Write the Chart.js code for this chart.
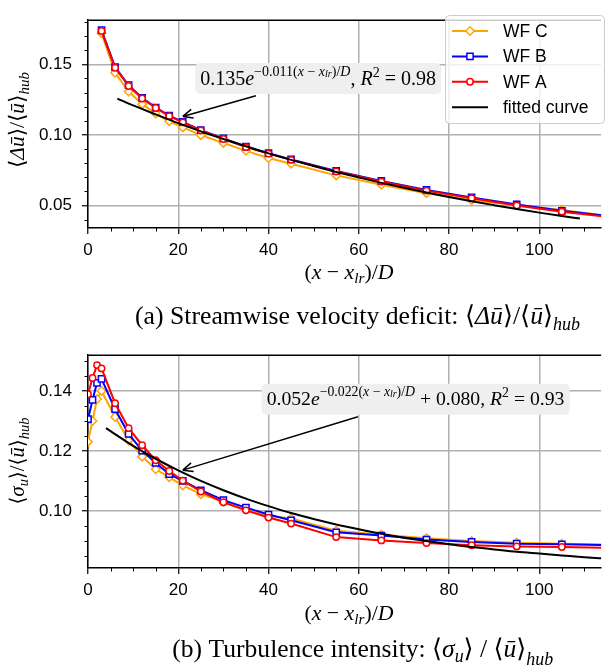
<!DOCTYPE html>
<html>
<head>
<meta charset="utf-8">
<script src="https://cdn.jsdelivr.net/npm/chart.js@4.4.1/dist/chart.umd.min.js"></script>
<style>
  html, body { margin: 0; padding: 0; background: #fff; }
  #wrap { position: relative; width: 607px; height: 670px; overflow: hidden; }
  canvas { position: absolute; left: 0; }
  #top { top: 0; }
  #bot { top: 335px; }
</style>
</head>
<body>
<div id="wrap">
  <canvas id="top" width="607" height="335"></canvas>
  <canvas id="bot" width="607" height="335"></canvas>
</div>
<script>
// ---- data: (a) streamwise velocity deficit ----
const xDef = [3, 6, 9, 12, 15, 18, 21, 25, 30, 35, 40, 45, 55, 65, 75, 85, 95, 105, 115];
const defA = [0.1736, 0.1476, 0.1347, 0.1258, 0.1191, 0.1133, 0.1089, 0.1031, 0.0971, 0.0913, 0.0867, 0.0823, 0.0740, 0.0669, 0.0605, 0.0551, 0.0500, 0.0456, 0.0420];
const defB = [0.1743, 0.1481, 0.1352, 0.1262, 0.1194, 0.1136, 0.1092, 0.1034, 0.0975, 0.0917, 0.0871, 0.0826, 0.0745, 0.0674, 0.0610, 0.0557, 0.0507, 0.0462, 0.0426];
const defC = [0.1720, 0.1440, 0.1307, 0.1218, 0.1151, 0.1096, 0.1053, 0.0998, 0.0943, 0.0887, 0.0836, 0.0796, 0.0713, 0.0647, 0.0587, 0.0536, 0.0503, 0.0468, 0.0425];
// fitted curve 0.135 e^{-0.011 x}
const fitDefX = [6.5, 10, 15, 20, 25, 30, 35, 40, 45, 50, 55, 60, 65, 70, 75, 80, 85, 90, 95, 100, 105, 109];
const fitDefY = [0.1257, 0.1209, 0.1145, 0.1083, 0.1025, 0.0971, 0.0919, 0.0869, 0.0823, 0.0779, 0.0737, 0.0698, 0.0660, 0.0625, 0.0592, 0.0560, 0.0530, 0.0502, 0.0475, 0.0449, 0.0425, 0.0407];

// ---- data: (b) turbulence intensity ----
const xTi = [0, 1, 2, 3, 6, 9, 12, 15, 18, 21, 25, 30, 35, 40, 45, 55, 65, 75, 85, 95, 105, 115];
const tiA = [0.1389, 0.1443, 0.1486, 0.1475, 0.1359, 0.1276, 0.1219, 0.1169, 0.1133, 0.1101, 0.1065, 0.1029, 0.1002, 0.0978, 0.0958, 0.0913, 0.0902, 0.0893, 0.0886, 0.0882, 0.0880, 0.0877];
const tiB = [0.1306, 0.1370, 0.1427, 0.1440, 0.1339, 0.1257, 0.1201, 0.1160, 0.1123, 0.1100, 0.1069, 0.1036, 0.1011, 0.0988, 0.0969, 0.0929, 0.0918, 0.0905, 0.0897, 0.0891, 0.0889, 0.0886];
const tiC = [0.1231, 0.1300, 0.1373, 0.1400, 0.1313, 0.1235, 0.1181, 0.1139, 0.1112, 0.1085, 0.1056, 0.1031, 0.1005, 0.0983, 0.0975, 0.0934, 0.0921, 0.0909, 0.0900, 0.0894, 0.0891, 0.0888];
// fitted curve 0.052 e^{-0.022 x} + 0.080
const fitTiX = [4, 5, 10, 15, 20, 25, 30, 35, 40, 45, 50, 55, 60, 65, 70, 75, 80, 85, 90, 95, 100, 105, 110, 115];
const fitTiY = [0.1276, 0.1266, 0.1217, 0.1174, 0.1135, 0.1100, 0.1069, 0.1041, 0.1016, 0.0993, 0.0973, 0.0955, 0.0939, 0.0924, 0.0911, 0.0900, 0.0889, 0.0880, 0.0872, 0.0864, 0.0858, 0.0852, 0.0846, 0.0841];

// ---- ticks ----
const xTicks = [0, 20, 40, 60, 80, 100];
const yTicksDef = [0.05, 0.10, 0.15];
const yTicksTi = [0.10, 0.12, 0.14];
const labels = ['WF A', 'WF B', 'WF C', 'fitted curve'];

const X_MAX = 113.7;
const SANS = '"Liberation Sans", Arial, sans-serif';
const SERIF = '"Liberation Serif", "DejaVu Serif", serif';

const styles = [
  { color: '#ff0000', point: 'circle', r: 3.2 },
  { color: '#0000ff', point: 'rect', r: 4.4 },
  { color: '#ffa500', point: 'rectRot', r: 4.2 },
  { color: '#000000', point: false, r: 0 }
];

function lineSet(label, xs, ys, st) {
  return {
    label: label,
    data: xs.map((x, i) => ({ x: x, y: ys[i] })),
    borderColor: st.color,
    backgroundColor: st.color,
    borderWidth: 2,
    pointStyle: st.point,
    pointRadius: st.r,
    pointBorderColor: st.color,
    pointBackgroundColor: '#fff',
    pointBorderWidth: 1.5,
    cubicInterpolationMode: st.point ? 'default' : 'monotone'
  };
}

// draw a run list like [text, italic, scale, shift]; width fitted to the target
function drawRuns(ctx, runs, cx, base, targetW) {
  const font = (r, s) => (r[1] ? 'italic ' : '') + (s * (r[2] || 1)).toFixed(2) + 'px ' + SERIF;
  let w100 = 0;
  runs.forEach(r => { ctx.font = font(r, 100); w100 += ctx.measureText(r[0]).width; });
  const size = 100 * targetW / w100;
  let x = cx - targetW / 2;
  ctx.textAlign = 'left';
  ctx.textBaseline = 'alphabetic';
  runs.forEach(r => {
    ctx.font = font(r, size);
    ctx.fillText(r[0], x, base + (r[3] || 0) * size);
    x += ctx.measureText(r[0]).width;
  });
  return size;
}

function roundRect(ctx, x, y, w, h, r) {
  ctx.beginPath();
  ctx.moveTo(x + r, y);
  ctx.arcTo(x + w, y, x + w, y + h, r);
  ctx.arcTo(x + w, y + h, x, y + h, r);
  ctx.arcTo(x, y + h, x, y, r);
  ctx.arcTo(x, y, x + w, y, r);
  ctx.closePath();
}

const xTitle = [['(', 0], ['x', 1], [' \u2212 ', 0], ['x', 1], ['lr', 1, 0.7, 0.2], [')/', 0], ['D', 1]];

function decor(cfg) {
  return {
    id: 'decor',
    afterDraw(chart) {
      const ctx = chart.ctx, a = chart.chartArea;
      const sx = chart.scales.x, sy = chart.scales.y;
      ctx.save();
      // top spine
      ctx.strokeStyle = '#000';
      ctx.lineWidth = 1.5;
      ctx.beginPath();
      ctx.moveTo(a.left, a.top);
      ctx.lineTo(a.right, a.top);
      ctx.stroke();

      // minor ticks
      ctx.lineWidth = 1;
      ctx.beginPath();
      for (let k = 1; k * 5 <= X_MAX; k++) {
        if (k % 4 === 0) continue;
        const px = Math.round(sx.getPixelForValue(k * 5)) + 0.5;
        ctx.moveTo(px, a.bottom);
        ctx.lineTo(px, a.bottom + 3.5);
      }
      for (let k = cfg.minor[0]; k <= cfg.minor[1]; k++) {
        if (k % cfg.minor[3] === 0) continue;
        const py = Math.round(sy.getPixelForValue(k * cfg.minor[2])) + 0.5;
        ctx.moveTo(a.left, py);
        ctx.lineTo(a.left - 3.5, py);
      }
      ctx.stroke();

      ctx.fillStyle = '#000';
      // axis titles and caption
      drawRuns(ctx, xTitle, 349, cfg.xTitleY, 89);
      drawRuns(ctx, cfg.caption, cfg.captionX, cfg.captionY, cfg.captionW);
      ctx.save();
      ctx.translate(24, cfg.yTitleC);
      ctx.rotate(-Math.PI / 2);
      drawRuns(ctx, cfg.yTitle, 0, 0, cfg.yTitleW);
      ctx.restore();

      // annotation arrow and box
      const n = cfg.note;
      const p0 = [sx.getPixelForValue(n.from[0]), sy.getPixelForValue(n.from[1])];
      const p1 = [sx.getPixelForValue(n.to[0]), sy.getPixelForValue(n.to[1])];
      ctx.strokeStyle = '#000';
      ctx.lineWidth = 1.5;
      ctx.beginPath();
      ctx.moveTo(p0[0], p0[1]);
      ctx.lineTo(p1[0], p1[1]);
      const ang = Math.atan2(p1[1] - p0[1], p1[0] - p0[0]);
      [-0.42, 0.42].forEach(d => {
        ctx.moveTo(p1[0], p1[1]);
        ctx.lineTo(p1[0] - 11 * Math.cos(ang + d), p1[1] - 11 * Math.sin(ang + d));
      });
      ctx.stroke();
      const cx = sx.getPixelForValue(n.at[0]), cy = sy.getPixelForValue(n.at[1]);
      ctx.fillStyle = '#efefef';
      roundRect(ctx, cx - n.w / 2 - 5, cy - 15.5, n.w + 10, 31, 5);
      ctx.fill();
      ctx.fillStyle = '#000';
      drawRuns(ctx, n.runs, cx, cy + n.dy, n.w);

      // legend
      if (cfg.legend) {
        const ds = chart.data.datasets;
        ctx.fillStyle = 'rgba(255,255,255,0.8)';
        ctx.strokeStyle = '#cccccc';
        ctx.lineWidth = 1;
        roundRect(ctx, 445.5, 15.5, 159, 108, 4);
        ctx.fill();
        ctx.stroke();
        [3, 2, 1, 0].forEach((i, row) => {
          const d = ds[i], y = 31 + row * 25.4;
          ctx.strokeStyle = d.borderColor;
          ctx.lineWidth = 2;
          ctx.beginPath();
          ctx.moveTo(452, y);
          ctx.lineTo(488, y);
          ctx.stroke();
          if (d.pointStyle) {
            ctx.fillStyle = '#fff';
            ctx.lineWidth = 1.5;
            Chart.helpers.drawPoint(ctx, { pointStyle: d.pointStyle, radius: d.pointRadius, borderWidth: 1.5, rotation: 0 }, 470, y);
          }
          ctx.fillStyle = '#000';
          ctx.font = '17.5px ' + SANS;
          ctx.textAlign = 'left';
          ctx.textBaseline = 'middle';
          ctx.fillText(d.label, 503, y + 1);
        });
      }
      ctx.restore();
    }
  };
}

function makeChart(id, cfg) {
  const grid = { color: '#b0b0b0', lineWidth: 1.5, tickColor: '#000', tickLength: 6, tickWidth: 1.2 };
  const border = { color: '#000', width: 1.5 };
  const tickFont = { family: SANS, size: 17 };
  return new Chart(document.getElementById(id), {
    type: 'line',
    data: { datasets: cfg.datasets },
    options: {
      responsive: false,
      animation: false,
      devicePixelRatio: 1,
      layout: { padding: { top: cfg.top, left: 0, right: 0, bottom: 0 } },
      plugins: { legend: { display: false }, tooltip: { enabled: false } },
      scales: {
        x: {
          type: 'linear', min: 0, max: X_MAX, bounds: 'data',
          afterBuildTicks: s => { s.ticks = xTicks.map(v => ({ value: v })); },
          afterFit: s => { s.height = cfg.xAxisH; },
          ticks: { color: '#000', font: tickFont, padding: 6, maxRotation: 0, autoSkip: false, callback: v => String(v) },
          grid: grid, border: border
        },
        y: {
          type: 'linear', min: cfg.yMin, max: cfg.yMax, bounds: 'data',
          afterBuildTicks: s => { s.ticks = cfg.yTicks.map(v => ({ value: v })); },
          afterFit: s => { s.width = 88; },
          ticks: { color: '#000', font: tickFont, padding: 10, callback: v => v.toFixed(2) },
          grid: grid, border: border
        }
      }
    },
    plugins: [decor(cfg)]
  });
}

// dataset 0 is drawn last, so the fitted curve sits on top, then WF A, WF B, WF C
makeChart('top', {
  top: 7, xAxisH: 107, yMin: 0.034, yMax: 0.1813, yTicks: yTicksDef,
  minor: [4, 18, 0.01, 5],
  datasets: [
    lineSet(labels[3], fitDefX, fitDefY, styles[3]),
    lineSet(labels[0], xDef, defA, styles[0]),
    lineSet(labels[1], xDef, defB, styles[1]),
    lineSet(labels[2], xDef, defC, styles[2])
  ],
  legend: true,
  xTitleY: 279,
  caption: [['(a) Streamwise velocity deficit: ', 0], ['\u27e8', 0], ['\u0394', 1], ['\u016b', 1], ['\u27e9', 0], ['/', 0], ['\u27e8', 0], ['\u016b', 1], ['\u27e9', 0], ['hub', 1, 0.7, 0.25]],
  captionX: 357.5, captionY: 324, captionW: 445,
  yTitle: [['\u27e8', 0], ['\u0394', 1], ['\u016b', 1], ['\u27e9', 0], ['/', 0], ['\u27e8', 0], ['\u016b', 1], ['\u27e9', 0], ['hub', 1, 0.7, 0.25]],
  yTitleC: 120, yTitleW: 96,
  note: {
    at: [51.0, 0.1400], from: [37.2, 0.1278], to: [21.0, 0.1131], w: 236, dy: 6.5,
    runs: [['0.135', 0], ['e', 1], ['\u22120.011(', 0, 0.7, -0.45], ['x', 1, 0.7, -0.45], [' \u2212 ', 0, 0.7, -0.45], ['x', 1, 0.7, -0.45], ['lr', 1, 0.5, -0.38], [')/', 0, 0.7, -0.45], ['D', 1, 0.7, -0.45], [', ', 0], ['R', 1], ['2', 0, 0.7, -0.4], [' = 0.98', 0]]
  }
});

makeChart('bot', {
  top: 13, xAxisH: 102, yMin: 0.081, yMax: 0.1519, yTicks: yTicksTi,
  minor: [17, 30, 0.005, 4],
  datasets: [
    lineSet(labels[3], fitTiX, fitTiY, styles[3]),
    lineSet(labels[0], xTi, tiA, styles[0]),
    lineSet(labels[1], xTi, tiB, styles[1]),
    lineSet(labels[2], xTi, tiC, styles[2])
  ],
  legend: false,
  xTitleY: 285,
  caption: [['(b) Turbulence intensity: ', 0], ['\u27e8', 0], ['\u03c3', 1], ['u', 1, 0.7, 0.2], ['\u27e9', 0], [' / ', 0], ['\u27e8', 0], ['\u016b', 1], ['\u27e9', 0], ['hub', 1, 0.7, 0.3]],
  captionX: 362.8, captionY: 322, captionW: 381,
  yTitle: [['\u27e8', 0], ['\u03c3', 1], ['u', 1, 0.7, 0.2], ['\u27e9', 0], ['/', 0], ['\u27e8', 0], ['\u016b', 1], ['\u27e9', 0], ['hub', 1, 0.7, 0.25]],
  yTitleC: 126, yTitleW: 87,
  note: {
    at: [72.6, 0.1372], from: [59.8, 0.1314], to: [21.0, 0.1136], w: 298, dy: 5.5,
    runs: [['0.052', 0], ['e', 1], ['\u22120.022(', 0, 0.7, -0.45], ['x', 1, 0.7, -0.45], [' \u2212 ', 0, 0.7, -0.45], ['x', 1, 0.7, -0.45], ['lr', 1, 0.5, -0.38], [')/', 0, 0.7, -0.45], ['D', 1, 0.7, -0.45], [' + 0.080, ', 0], ['R', 1], ['2', 0, 0.7, -0.4], [' = 0.93', 0]]
  }
});
</script>
</body>
</html>
